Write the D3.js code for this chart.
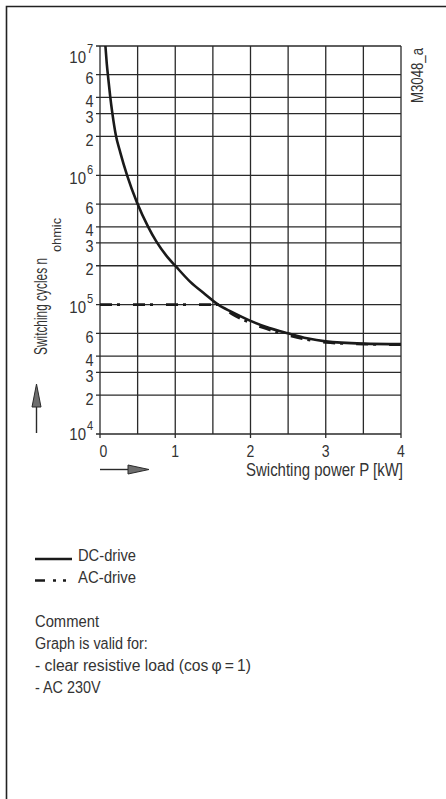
<!DOCTYPE html>
<html><head><meta charset="utf-8">
<script src="https://cdn.jsdelivr.net/npm/d3@7"></script>
<style>
html,body{margin:0;padding:0;background:#fff;}
svg text{font-family:"Liberation Sans","Arial",sans-serif;fill:#333;}
</style></head>
<body><svg id="c" width="446" height="799"></svg>
<script>
// ---- data ----
const xTicks = [0, 1, 2, 3, 4];
const xGrid = [0, 0.5, 1, 1.5, 2, 2.5, 3, 3.5, 4];
const yGrid = [1e4, 2e4, 3e4, 4e4, 6e4, 1e5, 2e5, 3e5, 4e5, 6e5, 1e6, 2e6, 3e6, 4e6, 6e6, 1e7];
const yMinorLabels = [2, 3, 4, 6];
const yDecades = [4, 5, 6, 7];
const dcP = [0.072, 0.09, 0.11, 0.135, 0.165, 0.21, 0.27, 0.36, 0.49, 0.64, 0.75, 0.9, 1.0, 1.2, 1.4, 1.57, 1.75, 2.0, 2.25, 2.5, 2.75, 3.0, 3.5, 4.0];
const dcN = [1e7, 7.3e6, 5.6e6, 4.1e6, 3.0e6, 2.05e6, 1.5e6, 1.0e6, 6.2e5, 4.0e5, 3.07e5, 2.32e5, 2.0e5, 1.5e5, 1.2e5, 1.0e5, 8.8e4, 7.5e4, 6.6e4, 6.0e4, 5.5e4, 5.2e4, 5.0e4, 4.95e4];
const acP = [0, 0.5, 1.0, 1.57, 1.75, 2.0, 2.25, 2.5, 3.0, 3.5, 4.0];
const acN = [1e5, 1e5, 1e5, 1e5, 8.5e4, 7.2e4, 6.4e4, 5.8e4, 5.1e4, 4.95e4, 4.9e4];
const legendLabels = ["DC-drive", "AC-drive"];
const commentLines = ["Comment", "Graph is valid for:", "- clear resistive load (cos\u2009\u03C6\u2009=\u20091)", "- AC 230V"];

const svg = d3.select("#c");
const x = d3.scaleLinear().domain([0, 4]).range([100, 401]);
const y = d3.scaleLog().domain([1e4, 1e7]).range([434, 46]);
const ink = "#2a2a2a";

function squeeze(sel, f) {
  sel.each(function () {
    const L = this.getComputedTextLength();
    d3.select(this).attr("textLength", L * f).attr("lengthAdjust", "spacingAndGlyphs");
  });
  return sel;
}
function fitTo(sel, w) {
  return sel.attr("textLength", w).attr("lengthAdjust", "spacingAndGlyphs");
}

// frame
svg.append("path").attr("d", "M6.5,799 V6.5 H446").attr("fill", "none").attr("stroke", "#222").attr("stroke-width", 1.6);

// grid
const g = svg.append("g");
g.selectAll("line.h").data(yGrid).join("line")
  .attr("x1", x(0) - 4).attr("x2", x(4)).attr("y1", d => y(d)).attr("y2", d => y(d))
  .attr("stroke", ink).attr("stroke-width", 1.3);
g.selectAll("line.v").data(xGrid).join("line")
  .attr("x1", d => x(d)).attr("x2", d => x(d)).attr("y1", y(1e7)).attr("y2", d => xTicks.includes(d) ? y(1e4) + 4 : y(1e4))
  .attr("stroke", ink).attr("stroke-width", 1.3);

// x tick labels
squeeze(svg.selectAll("text.xt").data(xTicks).join("text")
  .attr("x", d => x(d) + (d === 0 ? 3.5 : 0)).attr("y", 457).attr("text-anchor", "middle")
  .attr("font-size", 16.5).text(d => d), 0.85);

// y minor labels
yDecades.slice(0, 3).forEach(dec => {
  yMinorLabels.forEach(m => {
    squeeze(svg.append("text").attr("x", 93.5).attr("y", y(m * Math.pow(10, dec)) + 9.5)
      .attr("text-anchor", "end").attr("font-size", 17).text(m), 0.85);
  });
});
// decade labels
yDecades.forEach(dec => {
  const yy = y(Math.pow(10, dec)) + (dec === 7 ? 17 : (dec === 4 ? 6 : 8.5));
  squeeze(svg.append("text").attr("x", 86).attr("y", yy).attr("text-anchor", "end").attr("font-size", 17).text("10"), 0.88);
  squeeze(svg.append("text").attr("x", 87).attr("y", yy - 10).attr("font-size", 13).text(dec), 0.85);
});

// axis titles
fitTo(svg.append("text").attr("x", 403).attr("y", 476).attr("text-anchor", "end").attr("font-size", 18)
  .text("Swichting power P [kW]"), 157);
fitTo(svg.append("text").attr("transform", "translate(47,355) rotate(-90)").attr("font-size", 17.5)
  .text("Switching cycles n"), 97);
fitTo(svg.append("text").attr("transform", "translate(61,252) rotate(-90)").attr("font-size", 12.5)
  .text("ohmic"), 34);

fitTo(svg.append("text").attr("transform", "translate(423,103) rotate(-90)").attr("font-size", 16.5).text("M3048_a"), 55);

// arrows
svg.append("line").attr("x1", 36.5).attr("x2", 36.5).attr("y1", 433).attr("y2", 405).attr("stroke", ink).attr("stroke-width", 1.4);
svg.append("path").attr("d", "M36.5,384 L41,407 L32,407 Z").attr("fill", "#6e6e6e").attr("stroke", ink).attr("stroke-width", 1);
svg.append("line").attr("x1", 100).attr("x2", 130).attr("y1", 469.5).attr("y2", 469.5).attr("stroke", ink).attr("stroke-width", 1.4);
svg.append("path").attr("d", "M149,469.5 L128,465 L128,474 Z").attr("fill", "#6e6e6e").attr("stroke", ink).attr("stroke-width", 1);

// curves
const line = d3.line().x(d => x(d[0])).y(d => y(d[1])).curve(d3.curveMonotoneX);
svg.append("path").datum(acP.map((p, i) => [p, acN[i]])).attr("d", line)
  .attr("fill", "none").attr("stroke", "#1a1a1a").attr("stroke-width", 2.6).attr("stroke-dasharray", "12,5,3,13");
svg.append("path").datum(dcP.map((p, i) => [p, dcN[i]])).attr("d", line)
  .attr("fill", "none").attr("stroke", "#1a1a1a").attr("stroke-width", 2.6);

// legend
svg.append("line").attr("x1", 35).attr("x2", 72).attr("y1", 559).attr("y2", 559).attr("stroke", "#1a1a1a").attr("stroke-width", 2.6);
svg.append("line").attr("x1", 35).attr("x2", 72).attr("y1", 580.5).attr("y2", 580.5).attr("stroke", "#1a1a1a").attr("stroke-width", 2.6)
  .attr("stroke-dasharray", "10,8,3,7,3,20");
fitTo(svg.selectAll("text.lg").data(legendLabels).join("text")
  .attr("x", 78).attr("y", (d, i) => 561 + i * 22).attr("font-size", 16).text(d => d), 58);

const cm = svg.selectAll("text.cm").data(commentLines).join("text")
  .attr("x", 35).attr("y", (d, i) => 627 + i * 22).attr("font-size", 16).text(d => d);
fitTo(cm.filter((d, i) => i === 0), 64);
fitTo(cm.filter((d, i) => i === 2), 216);
squeeze(cm.filter((d, i) => i === 1 || i === 3), 0.9);
</script></body></html>
